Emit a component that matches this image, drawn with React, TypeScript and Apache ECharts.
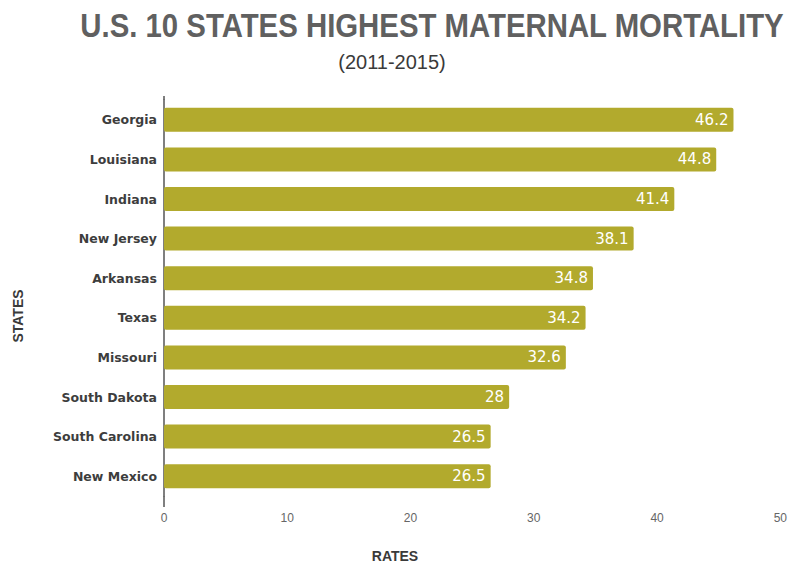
import React, { useEffect, useRef } from "react";
import * as echarts from "echarts";

const states = [
  "Georgia",
  "Louisiana",
  "Indiana",
  "New Jersey",
  "Arkansas",
  "Texas",
  "Missouri",
  "South Dakota",
  "South Carolina",
  "New Mexico",
];
const rates = [46.2, 44.8, 41.4, 38.1, 34.8, 34.2, 32.6, 28, 26.5, 26.5];
const xTicks = { min: 0, max: 50, interval: 10 };
const titleText = "U.S. 10 STATES HIGHEST MATERNAL MORTALITY";
const subtitleText = "(2011-2015)";
const xName = "RATES";
const yName = "STATES";

export default function App() {
  const ref = useRef<HTMLDivElement>(null);
  useEffect(() => {
    if (!ref.current) return;
    const chart = echarts.init(ref.current, undefined, { renderer: "svg" });
    const gridLeft = 164;
    const gridTop = 100;
    const gridBottom = 69;
    chart.setOption({
      animation: false,
      backgroundColor: "#ffffff",
      grid: { left: gridLeft, right: 6, top: gridTop, bottom: gridBottom, containLabel: false },
      xAxis: {
        type: "value",
        min: xTicks.min,
        max: xTicks.max,
        interval: xTicks.interval,
        axisLine: { show: false },
        axisTick: { show: false },
        splitLine: { show: false },
        axisLabel: {
          margin: 16,
          fontSize: 12,
          color: "#666",
          fontFamily: "Liberation Sans",
        },
      },
      yAxis: {
        type: "category",
        data: states,
        inverse: true,
        axisLine: { show: true, lineStyle: { color: "#555", width: 1.5 } },
        axisTick: { show: false },
        axisLabel: {
          margin: 7,
          fontSize: 12.5,
          fontWeight: "bold",
          color: "#3d3d3d",
          fontFamily: "DejaVu Sans",
        },
      },
      series: [
        {
          type: "bar",
          data: rates,
          barWidth: 24,
          itemStyle: { color: "#b2aa2d", borderRadius: 2 },
          label: {
            show: true,
            position: "insideRight",
            distance: 5,
            color: "#ffffff",
            fontSize: 15,
            fontFamily: "DejaVu Sans",
          },
        },
      ],
      graphic: [
        {
          type: "line",
          shape: { x1: gridLeft, y1: 96, x2: gridLeft, y2: gridTop },
          style: { stroke: "#555", lineWidth: 1.5 },
        },
        {
          type: "line",
          shape: { x1: gridLeft, y1: 565 - gridBottom, x2: gridLeft, y2: 507 },
          style: { stroke: "#555", lineWidth: 1.5 },
        },
        {
          type: "text",
          x: 432,
          y: 26,
          scaleX: 0.89,
          style: {
            text: titleText,
            fontSize: 33,
            fontWeight: "bold",
            fontFamily: "Liberation Sans",
            fill: "#606060",
            align: "center",
            verticalAlign: "middle",
          },
        },
        {
          type: "text",
          x: 392,
          y: 62,
          style: {
            text: subtitleText,
            fontSize: 20,
            fontFamily: "Liberation Sans",
            fill: "#3a3a3a",
            align: "center",
            verticalAlign: "middle",
          },
        },
        {
          type: "text",
          x: 395,
          y: 556,
          style: {
            text: xName,
            fontSize: 14,
            fontWeight: "bold",
            fontFamily: "Liberation Sans",
            fill: "#3a3a3a",
            align: "center",
            verticalAlign: "middle",
          },
        },
        {
          type: "text",
          x: 18,
          y: 316,
          rotation: Math.PI / 2,
          style: {
            text: yName,
            fontSize: 14,
            fontWeight: "bold",
            fontFamily: "Liberation Sans",
            fill: "#3a3a3a",
            align: "center",
            verticalAlign: "middle",
          },
        },
      ],
    });
    return () => chart.dispose();
  }, []);
  return (
    <div
      ref={ref}
      style={{ position: "fixed", left: 0, top: 0, width: 790, height: 565 }}
    />
  );
}
